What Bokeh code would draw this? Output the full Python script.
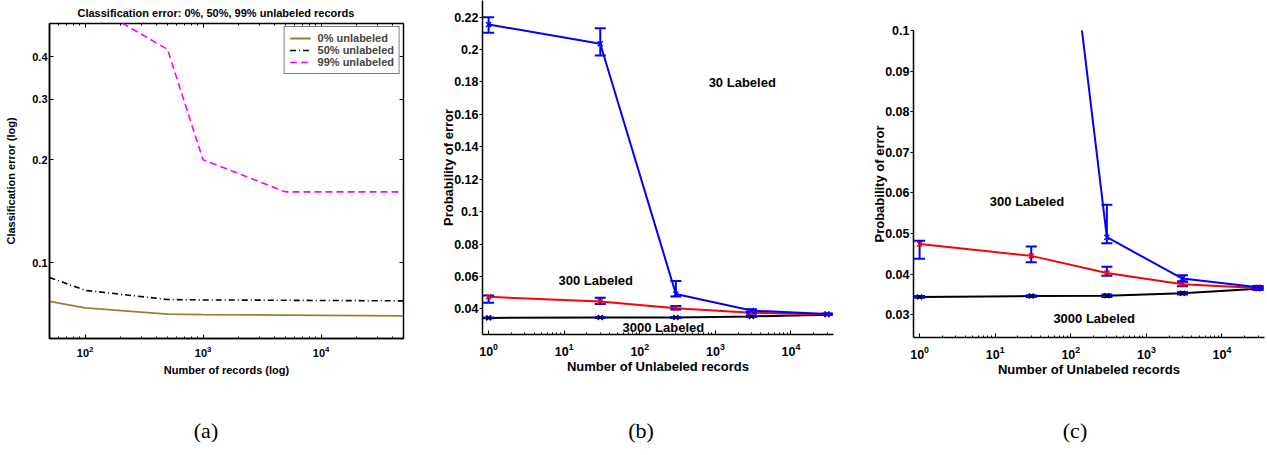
from bokeh.plotting import figure
from bokeh.models import (Range1d, FixedTicker, LogAxis, Legend, LegendItem, Label, Title, Div,
                          PrintfTickFormatter, CustomJSTickFormatter)
from bokeh.layouts import row, column
from bokeh.embed import file_html
from bokeh.resources import INLINE

# ---------------- data: panel (a) ----------------
records = [50, 100, 500, 1000, 5000, 10000, 50000]
err_0pct = [0.0770, 0.0737, 0.0707, 0.0705, 0.0702, 0.0701, 0.0699]
err_50pct = [0.0905, 0.0830, 0.0780, 0.0778, 0.0776, 0.0775, 0.0773]
err_99pct = [0.70, 0.58, 0.42, 0.200, 0.161, 0.161, 0.161]
a_legend = ["0% unlabeled", "50% unlabeled", "99% unlabeled"]
a_xticks = [100, 1000, 10000]
a_yticks = [0.1, 0.2, 0.3, 0.4]

# ---------------- data: panels (b), (c) ----------------
unlabeled = [1, 30, 300, 3000, 30000]
lab30 = [0.2155, 0.2036, 0.0491, 0.0389, 0.0368]
lab30_lo = [0.2104, 0.1964, 0.0476, 0.0382, 0.0364]
lab30_hi = [0.2200, 0.2132, 0.0571, 0.0397, 0.0371]
lab300 = [0.0474, 0.0445, 0.0403, 0.0375, 0.0366]
lab300_lo = [0.0438, 0.0429, 0.0396, 0.0370, 0.0363]
lab300_hi = [0.0482, 0.0468, 0.0418, 0.0381, 0.0369]
lab3000 = [0.0344, 0.0346, 0.0347, 0.0353, 0.0364]
lab3000_lo = [0.0342, 0.0344, 0.0344, 0.0350, 0.0361]
lab3000_hi = [0.0346, 0.0348, 0.0350, 0.0356, 0.0367]
log_xticks = [1, 10, 100, 1000, 10000]
b_yticks = [0.04, 0.06, 0.08, 0.10, 0.12, 0.14, 0.16, 0.18, 0.20, 0.22]
b_ylabels = ["0.04", "0.06", "0.08", "0.1", "0.12", "0.14", "0.16", "0.18", "0.2", "0.22"]
c_yticks = [0.03, 0.04, 0.05, 0.06, 0.07, 0.08, 0.09, 0.10]
c_ylabels = ["0.03", "0.04", "0.05", "0.06", "0.07", "0.08", "0.09", "0.1"]
captions = ["(a)", "(b)", "(c)"]

FONT = "Liberation Sans"


def minor_log(lo_exp, hi_exp):
    return [m * 10.0 ** e for e in range(lo_exp, hi_exp) for m in range(2, 10)]


def style_axis(ax, size, label_size=None):
    ax.major_label_text_font = FONT
    ax.major_label_text_font_style = "bold"
    ax.major_label_text_font_size = size
    ax.major_label_text_color = "black"
    ax.axis_label_text_font = FONT
    ax.axis_label_text_font_style = "bold"
    ax.axis_label_text_font_size = label_size or size
    ax.axis_label_text_color = "black"
    ax.axis_line_color = "black"
    ax.axis_line_width = 1.5
    ax.major_tick_line_color = "black"
    ax.minor_tick_line_color = "black"


# ---------------- panel (a) ----------------
fa = figure(width=420, height=400, x_axis_type="log", y_axis_type="log",
            x_range=Range1d(50, 50000), y_range=Range1d(0.06, 0.5),
            output_backend="svg", toolbar_location=None, title=None,
            min_border_left=49, min_border_right=17, min_border_top=22, min_border_bottom=62)
fa.frame_align = False
fa.margin = 0
fa.xgrid.grid_line_color = None
fa.ygrid.grid_line_color = None
fa.outline_line_color = "black"
fa.outline_line_width = 1.5
fa.outline_line_alpha = 1.0

fa.xaxis.ticker = FixedTicker(ticks=a_xticks, minor_ticks=minor_log(1, 5))
fa.yaxis.ticker = FixedTicker(ticks=a_yticks, minor_ticks=[])
fa.yaxis.formatter = PrintfTickFormatter(format="%.1f")
for ax in fa.xaxis + fa.yaxis:
    style_axis(ax, "11px")
    ax.major_tick_in = 4
    ax.major_tick_out = 0
    ax.minor_tick_in = 2
    ax.minor_tick_out = 0
fa.xaxis.major_label_standoff = 7
fa.yaxis.major_label_standoff = 2
fa.xaxis.axis_label = "Number of records (log)"
fa.yaxis.axis_label = "Classification error (log)"
fa.xaxis.axis_label_standoff = 4
fa.yaxis.axis_label_standoff = 12

top_ax = LogAxis(ticker=FixedTicker(ticks=a_xticks, minor_ticks=minor_log(1, 5)),
                 formatter=CustomJSTickFormatter(code="return ''"))
right_ax = LogAxis(ticker=FixedTicker(ticks=a_yticks, minor_ticks=[]),
                   formatter=CustomJSTickFormatter(code="return ''"))
for ax in (top_ax, right_ax):
    ax.axis_line_color = None
    ax.major_tick_in = 4
    ax.major_tick_out = 0
    ax.minor_tick_in = 2
    ax.minor_tick_out = 0
    ax.major_label_text_font_size = "1px"
    ax.major_label_standoff = 0
fa.add_layout(top_ax, "above")
fa.add_layout(right_ax, "right")
fa.add_layout(Title(text="Classification error: 0%, 50%, 99% unlabeled records", align="left",
                    offset=28, standoff=9, text_font=FONT, text_font_style="bold",
                    text_font_size="11px", text_color="black"), "above")

r0 = fa.line(records, err_0pct, line_color="#9b7e35", line_width=1.8)
r50 = fa.line(records, err_50pct, line_color="black", line_width=1.6, line_dash="6 3 1 3")
r99 = fa.line(records, err_99pct, line_color="#ff00ff", line_width=1.6, line_dash="7 4")
leg = Legend(items=[LegendItem(label=a_legend[0], renderers=[r0]),
                    LegendItem(label=a_legend[1], renderers=[r50]),
                    LegendItem(label=a_legend[2], renderers=[r99])],
             location="top_right", margin=3, padding=5, spacing=0,
             label_height=12, glyph_height=12, glyph_width=21, label_standoff=7,
             label_text_font=FONT, label_text_font_style="bold", label_text_font_size="11px",
             border_line_color="black", border_line_width=1.2, background_fill_alpha=1.0)
fa.add_layout(leg)


# ---------------- panels (b) and (c) ----------------
def make_panel(width, border_left, border_right, border_top, border_bottom, yr, yticks, ylabels):
    p = figure(width=width, height=400, x_axis_type="log",
               x_range=Range1d(0.83, 36500), y_range=yr,
               output_backend="svg", toolbar_location=None, title=None,
               min_border_left=border_left, min_border_right=border_right,
               min_border_top=border_top, min_border_bottom=border_bottom)
    p.frame_align = False
    p.margin = 0
    p.xgrid.grid_line_color = None
    p.ygrid.grid_line_color = None
    p.outline_line_color = None
    p.xaxis.ticker = FixedTicker(ticks=log_xticks, minor_ticks=minor_log(0, 5))
    p.yaxis.ticker = FixedTicker(ticks=yticks, minor_ticks=[])
    p.yaxis.major_label_overrides = {t: s for t, s in zip(yticks, ylabels)}
    for ax in p.xaxis + p.yaxis:
        style_axis(ax, "12.5px", "13px")
    p.xaxis.major_tick_in = 4
    p.xaxis.major_tick_out = 0
    p.xaxis.minor_tick_in = 2
    p.xaxis.minor_tick_out = 0
    p.xaxis.major_label_standoff = 8
    p.yaxis.major_tick_in = 0
    p.yaxis.major_tick_out = 3
    p.yaxis.major_label_standoff = 1
    p.xaxis.axis_label = "Number of Unlabeled records"
    p.yaxis.axis_label = "Probability of error"
    p.xaxis.axis_label_standoff = 0
    p.yaxis.axis_label_standoff = -5

    p.line(unlabeled, lab3000, line_color="black", line_width=2)
    p.line(unlabeled, lab300, line_color="red", line_width=2)
    p.line(unlabeled, lab30, line_color="blue", line_width=2)
    for lo, hi in ((lab3000_lo, lab3000_hi), (lab300_lo, lab300_hi), (lab30_lo, lab30_hi)):
        p.segment(unlabeled, lo, unlabeled, hi, line_color="blue", line_width=2)
        p.scatter(unlabeled, lo, marker="dash", size=11, line_color="blue", line_width=2)
        p.scatter(unlabeled, hi, marker="dash", size=11, line_color="blue", line_width=2)
    p.scatter(unlabeled, lab3000, marker="x", size=7, line_color="black", line_width=1.5)
    p.scatter(unlabeled, lab300, marker="x", size=7, line_color="red", line_width=1.5)
    p.scatter(unlabeled, lab30, marker="x", size=7, line_color="blue", line_width=1.5)
    return p


def add_label(p, x, y, text):
    p.add_layout(Label(x=x, y=y, text=text, text_align="center", text_baseline="middle",
                       text_font=FONT, text_font_style="bold", text_font_size="13px",
                       text_color="black"))


fb = make_panel(425, 62, 12, 0, 66, Range1d(0.02414, 0.2303), b_yticks, b_ylabels)
add_label(fb, 2265, 0.1799, "30 Labeled")
add_label(fb, 26.1, 0.0575, "300 Labeled")
add_label(fb, 205, 0.0286, "3000 Labeled")

fc = make_panel(422, 68, 3, 30, 63, Range1d(0.0244, 0.1), c_yticks, c_ylabels)
add_label(fc, 26.4, 0.0579, "300 Labeled")
add_label(fc, 204, 0.0292, "3000 Labeled")

# ---------------- sub-captions ----------------
cap_left = [206, 641, 1075]
spans = "".join(
    '<span style="position:absolute;left:%dpx;top:20px;line-height:22px;transform:translateX(-50%%);">%s</span>'
    % (x, c) for x, c in zip(cap_left, captions))
caps = Div(text='<div style="position:relative;width:1267px;height:54px;'
                'font-family:\'Liberation Serif\',serif;font-size:22px;color:black;">' + spans + '</div>',
           width=1267, height=54, margin=0)

layout = column(row(fa, fb, fc, spacing=0), caps, spacing=0)
layout.margin = 0

open("out.html", "w").write(file_html(layout, INLINE))
